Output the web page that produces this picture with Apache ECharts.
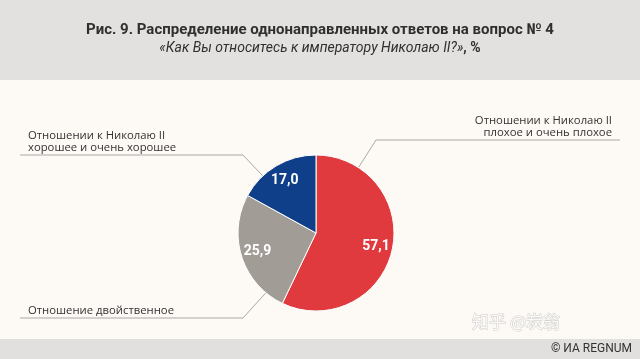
<!DOCTYPE html>
<html>
<head>
<meta charset="utf-8">
<script src="https://cdn.jsdelivr.net/npm/echarts@6/dist/echarts.min.js"></script>
<style>
html,body{margin:0;padding:0;background:#fdf9f5;}
#main{width:640px;height:359px;}
</style>
</head>
<body>
<div id="main"></div>
<script>
// ---- data ----
const categories = [
  'Отношении к Николаю II\nплохое и очень плохое',
  'Отношение двойственное',
  'Отношении к Николаю II\nхорошее и очень хорошее'
];
const values = [57.1, 25.9, 17.0];
const titleText = 'Рис. 9. Распределение однонаправленных ответов на вопрос № 4';
const subtitleText = '«Как Вы относитесь к императору Николаю II?»';
const sourceText = '© ИА REGNUM';
const watermarkText = '知乎 @炭翁';

// ---- styles / layout ----
const colors = ['#e03a3e', '#a29c97', '#0f3f88'];
const CX = 316, CY = 233, R = 78;
// leader-line layout: anchor angle on rim (deg clockwise from top), elbow, end, label placement
const labelLayouts = [
  {angle: 33,  elbow: [376, 140], end: [620, 140], x: 612, y: 139, align: 'right'},
  {angle: 220, elbow: [243, 318], end: [20, 318],  x: 28,  y: 317, align: 'left'},
  {angle: 317, elbow: [243, 155], end: [20, 155],  x: 28,  y: 154, align: 'left'}
];

const chart = echarts.init(document.getElementById('main'), null, {renderer: 'canvas'});
const fmt = v => v.toFixed(1).replace('.', ',');

const option = {
  backgroundColor: '#fdf9f5',
  animation: false,
  graphic: [
    {type: 'rect', shape: {x: 0, y: 0, width: 640, height: 80}, style: {fill: '#e2e1df'}, z: -10},
    {type: 'rect', shape: {x: 0, y: 339, width: 640, height: 20}, style: {fill: '#e1e0de'}, z: -10},
    {type: 'text', x: 320, y: 30, style: {text: titleText, align: 'center', verticalAlign: 'middle',
      font: 'bold 15px "Liberation Sans Narrow", "Roboto", sans-serif', fill: '#2f2f2f'}},
    {type: 'text', x: 320, y: 48, style: {
      text: '{i|' + subtitleText + '}{b|, %}', align: 'center', verticalAlign: 'middle',
      rich: {
        i: {font: 'italic 14px "Liberation Sans Narrow", "Roboto", sans-serif', fill: '#2f2f2f'},
        b: {font: 'bold 14px "Liberation Sans Narrow", "Roboto", sans-serif', fill: '#2f2f2f'}
      }}},
    {type: 'text', x: 632, y: 349, style: {text: sourceText, align: 'right', verticalAlign: 'middle',
      font: '12px "Liberation Sans Narrow", "Roboto", sans-serif', fill: '#333'}},
    {type: 'text', x: 560, y: 322, style: {text: watermarkText, align: 'right', verticalAlign: 'middle',
      font: '17px "Noto Sans CJK SC", sans-serif', fill: 'rgba(255,255,255,0.9)', stroke: 'rgba(120,120,120,0.35)', lineWidth: 1}}
  ],
  series: [
    {
      type: 'pie',
      center: [CX, CY],
      radius: R,
      startAngle: 90,
      clockwise: true,
      avoidLabelOverlap: false,
      itemStyle: {borderColor: '#ffffff', borderWidth: 1},
      data: categories.map((c, i) => ({name: c, value: values[i], itemStyle: {color: colors[i]}})),
      label: {
        show: true, position: 'outside', formatter: '{b}',
        fontFamily: '"Open Sans", sans-serif', fontSize: 11.3, lineHeight: 12, color: '#333'
      },
      labelLine: {show: true, lineStyle: {color: '#a9a9a9', width: 1}},
      labelLayout: function (params) {
        const L = labelLayouts[params.dataIndex];
        const a = L.angle * Math.PI / 180;
        const anchor = [CX + R * Math.sin(a), CY - R * Math.cos(a)];
        return {
          x: L.x, y: L.y, align: L.align, verticalAlign: 'bottom',
          labelLinePoints: [anchor, L.elbow.slice(), L.end.slice()]
        };
      },
      emphasis: {disabled: true},
      silent: true
    },
    {
      type: 'pie',
      center: [CX, CY],
      radius: [R * 0.5, R],
      startAngle: 90,
      clockwise: true,
      silent: true,
      itemStyle: {color: 'rgba(0,0,0,0)'},
      data: categories.map((c, i) => ({name: c, value: values[i]})),
      label: {
        show: true, position: 'inside',
        formatter: p => fmt(p.value),
        color: '#ffffff', fontWeight: 'bold', fontSize: 14,
        fontFamily: '"Liberation Sans Narrow", "Roboto", sans-serif'
      },
      labelLine: {show: false},
      emphasis: {disabled: true}
    }
  ]
};
chart.setOption(option);
</script>
</body>
</html>
